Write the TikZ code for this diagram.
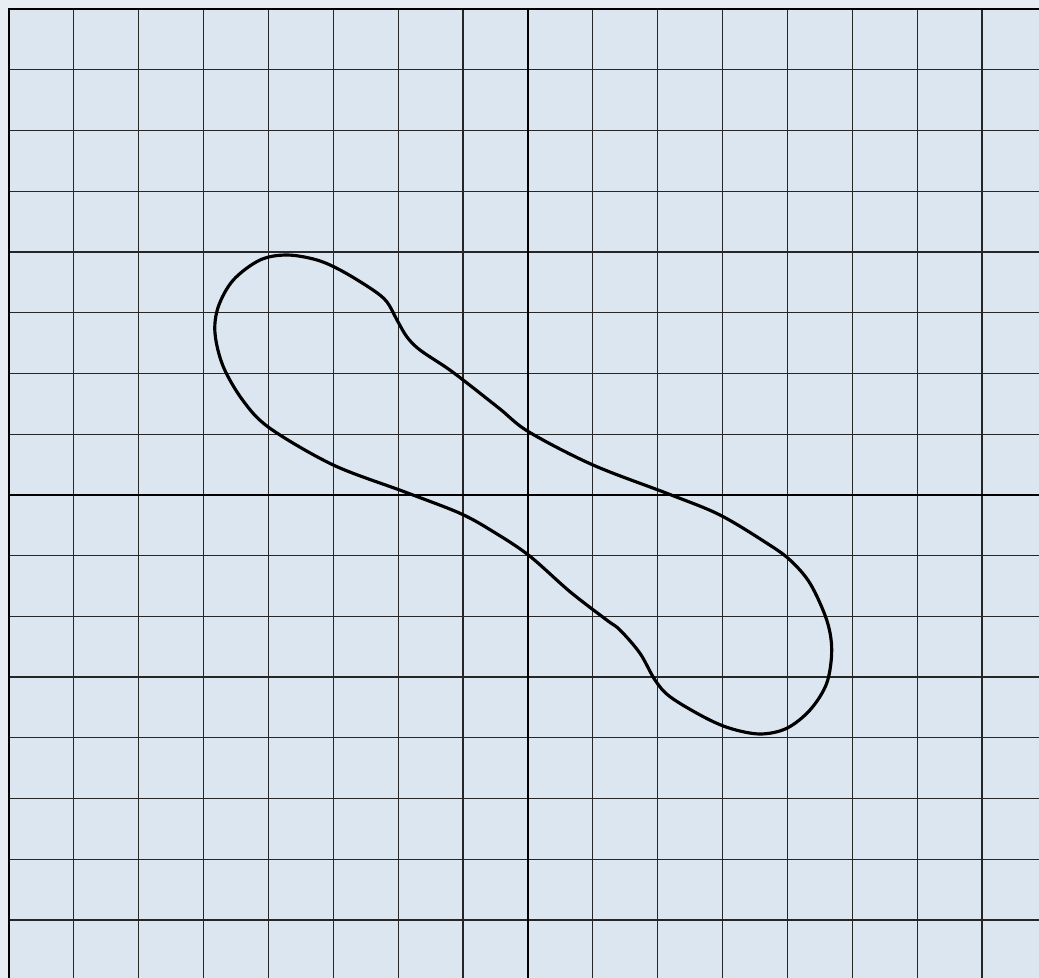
\documentclass[tikz,border=0pt]{standalone}
\definecolor{paper}{HTML}{DCE6F1}
\definecolor{margin}{HTML}{E8EDF4}
\tikzset{
  gridline/.style={draw=black!85, line width=0.7pt},
  axisline/.style={draw=black, line width=1.1pt},
  borderline/.style={draw=black, line width=1.3pt},
  curveline/.style={draw=black, line width=1.8pt, line join=round}
}
\begin{document}
\begin{tikzpicture}[x=0.02cm,y=-0.02cm]
\useasboundingbox (0,0) rectangle (1039,978);
\fill[margin] (0,0) rectangle (1039,978);
\fill[paper] (9,9) rectangle (1039,978);
% grid
\foreach \k in {1,...,15} {
  \draw[gridline] ({9+64.87*\k},9) -- ({9+64.87*\k},978);
}
\foreach \k in {1,...,15} {
  \draw[gridline] (9,{9+60.73*\k}) -- (1039,{9+60.73*\k});
}
% axes
\draw[axisline] (527.96,9) -- (527.96,978);
\draw[axisline] (9,494.84) -- (1039,494.84);
% borders
\draw[borderline] (9,978) -- (9,9) -- (1039,9);
% curve
\draw[curveline] plot[smooth cycle, tension=0.55] coordinates {
 (287,255) (317,260) (342,271) (373,290) (387,302) (397,320) (407,337)
 (420,350) (447,368) (467,383) (500,409) (529,432)
 (593,465) (670,494.5) (720,515) (767,543.3)
 (790,560) (810,583.3) (826.7,620) (831.7,650) (826.7,683.3) (810,710)
 (786.7,728.3) (760,734) (730,728.3) (703.3,716.7) (670,696.7) (655,680)
 (640,653.3) (620,630) (606.7,620) (570,591.7) (529,555.5) (493.3,531.7)
 (460,513.3) (405,492) (333.3,465) (270,428.3) (243.3,401)
 (223.3,366.7) (215,333.3) (218.3,306.7) (233.3,280) (260,260)
};
\end{tikzpicture}
\end{document}
